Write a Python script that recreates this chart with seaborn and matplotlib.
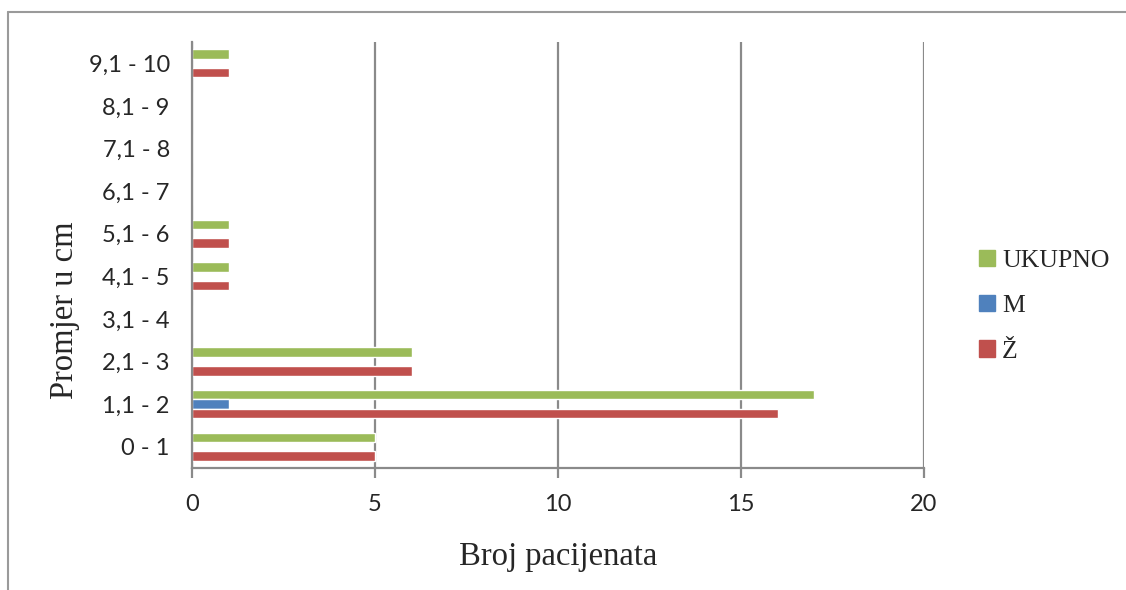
import pandas as pd
import numpy as np
import matplotlib
matplotlib.use('Agg')
import matplotlib.pyplot as plt
import seaborn as sns
from matplotlib.lines import Line2D

# podaci pročitani sa slike
kategorije = ['0 - 1', '1,1 - 2', '2,1 - 3', '3,1 - 4', '4,1 - 5',
              '5,1 - 6', '6,1 - 7', '7,1 - 8', '8,1 - 9', '9,1 - 10']
zene = [5, 16, 6, 0, 1, 1, 0, 0, 0, 1]
muski = [0, 1, 0, 0, 0, 0, 0, 0, 0, 0]
ukupno = [5, 17, 6, 0, 1, 1, 0, 0, 0, 1]

serije = ['UKUPNO', 'M', 'Ž']
boje = {'UKUPNO': '#9BBB59', 'M': '#4F81BD', 'Ž': '#C0504D'}

df = pd.DataFrame({
    'promjer': kategorije * 3,
    'broj': ukupno + muski + zene,
    'spol': ['UKUPNO'] * 10 + ['M'] * 10 + ['Ž'] * 10,
})

sns.set_style('white')
fig = plt.figure(figsize=(11.26, 5.9), dpi=100)
ax = fig.add_axes([0.1705, 0.2068, 0.650, 0.722])

sns.barplot(data=df, y='promjer', x='broj', hue='spol', order=kategorije[::-1],
            hue_order=serije, palette=boje, orient='h', width=0.66,
            saturation=1, ax=ax, legend=False)

ax.set_xlim(0, 20)
ax.set_xticks([0, 5, 10, 15, 20])
ax.grid(axis='x', color='#8a8a8a', linewidth=1.6)
ax.set_axisbelow(True)
for s in ['top', 'right']:
    ax.spines[s].set_visible(False)
for s in ['left', 'bottom']:
    ax.spines[s].set_color('#8a8a8a')
    ax.spines[s].set_linewidth(1.6)

ax.tick_params(axis='x', length=7, width=1.6, color='#8a8a8a', pad=12, bottom=True)
ax.tick_params(axis='y', length=0, pad=16)
for lab in ax.get_xticklabels() + ax.get_yticklabels():
    lab.set_fontfamily('Lato')
    lab.set_fontsize(17)

ax.set_xlabel('Broj pacijenata', family='Liberation Serif', fontsize=23.5)
ax.set_ylabel('Promjer u cm', family='Liberation Serif', fontsize=23.5)
ax.xaxis.set_label_coords(0.5, -0.172)
ax.yaxis.set_label_coords(-0.153, 0.37)

# legenda
handles = [plt.Rectangle((0, 0), 1, 1, color=boje[s]) for s in serije]
fig.legend(handles, serije, loc='center left', bbox_to_anchor=(0.849, 0.481),
           frameon=False, prop={'family': 'Liberation Serif', 'size': 18.5},
           handlelength=0.6, handleheight=0.6, handletextpad=0.3, labelspacing=0.9)

# okvir grafikona
fig.add_artist(Line2D([8 / 1126, 8 / 1126], [0, 1 - 12 / 590], color='#9a9a9a',
                      linewidth=1.5, transform=fig.transFigure))
fig.add_artist(Line2D([8 / 1126, 1], [1 - 12 / 590, 1 - 12 / 590], color='#9a9a9a',
                      linewidth=1.5, transform=fig.transFigure))

fig.savefig('out.png', dpi=100, facecolor='white')
